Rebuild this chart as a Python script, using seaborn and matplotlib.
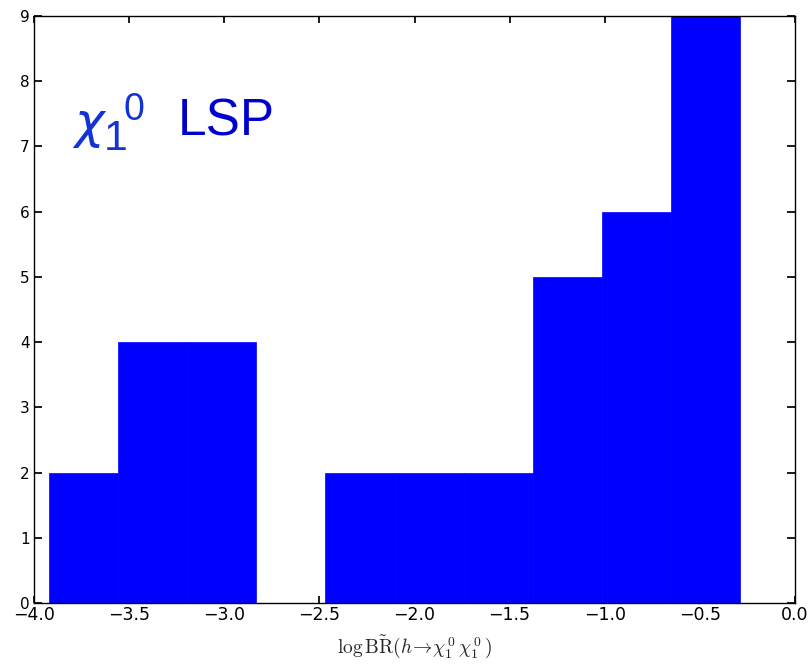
import numpy as np
import matplotlib
matplotlib.use("Agg")
import matplotlib.pyplot as plt
import seaborn as sns

# Histogram of log branching ratio (h -> chi1^0 chi1^0)
bin_edges = [-3.921, -3.558, -3.195, -2.832, -2.468, -2.105,
             -1.742, -1.379, -1.015, -0.652, -0.289]
counts = [2, 4, 4, 0, 2, 2, 2, 5, 6, 9]
x_ticks = [-4.0, -3.5, -3.0, -2.5, -2.0, -1.5, -1.0, -0.5, 0.0]
y_ticks = [0, 1, 2, 3, 4, 5, 6, 7, 8, 9]

sns.set_theme(style="ticks", rc={
    "xtick.direction": "in", "ytick.direction": "in",
    "xtick.top": True, "ytick.right": True,
    "xtick.major.size": 5, "ytick.major.size": 6,
    "axes.edgecolor": "black", "axes.linewidth": 1.0,
    "xtick.color": "black", "ytick.color": "black",
})
plt.rcParams["font.family"] = ["DejaVu Sans"]

fig = plt.figure(figsize=(8.1, 6.65), dpi=100)
ax = fig.add_axes([34 / 810, 62 / 665, 761 / 810, 587 / 665])

centers = [(a + b) / 2 for a, b in zip(bin_edges[:-1], bin_edges[1:])]
sns.histplot(x=centers, weights=counts, bins=bin_edges, color="blue",
             alpha=1.0, edgecolor="blue", linewidth=0.5, ax=ax)

ax.set_xlim(-4.0, 0.0)
ax.set_ylim(0, 9)
ax.set_xticks(x_ticks)
ax.set_yticks(y_ticks)
ax.set_xticklabels([f"{t:.1f}".replace("-", "\u2212") for t in x_ticks], fontsize=12.5)
ax.set_yticklabels([str(t) for t in y_ticks], fontsize=11)
ax.tick_params(axis="x", pad=2)
ax.tick_params(axis="y", pad=3)
for s in ax.spines.values():
    s.set_visible(True)
ax.set_ylabel("")
ax.set_xlabel(r"$\log\tilde{\mathrm{BR}}(h\!\to\!\chi_1^{\,0}\,\chi_1^{\,0}\,)$",
              fontsize=14, math_fontfamily="cm", labelpad=7)

# Annotation: chi_1^0 LSP
sans = "Liberation Sans"
ax.text(0.053, 0.792, "\u03c7", transform=ax.transAxes, fontsize=36,
        family="DejaVu Sans", style="oblique",
        color="#1433d4", va="baseline", ha="left")
ax.text(0.092, 0.772, "1", transform=ax.transAxes, fontsize=31,
        family=sans, color="#1433d4", va="baseline", ha="left")
ax.text(0.117, 0.823, "0", transform=ax.transAxes, fontsize=27,
        family=sans, color="#1433d4", va="baseline", ha="left")
ax.text(0.189, 0.797, "LSP", transform=ax.transAxes, fontsize=37,
        family=sans, color="#0000cc", va="baseline", ha="left")

fig.savefig("out.png", dpi=100)
